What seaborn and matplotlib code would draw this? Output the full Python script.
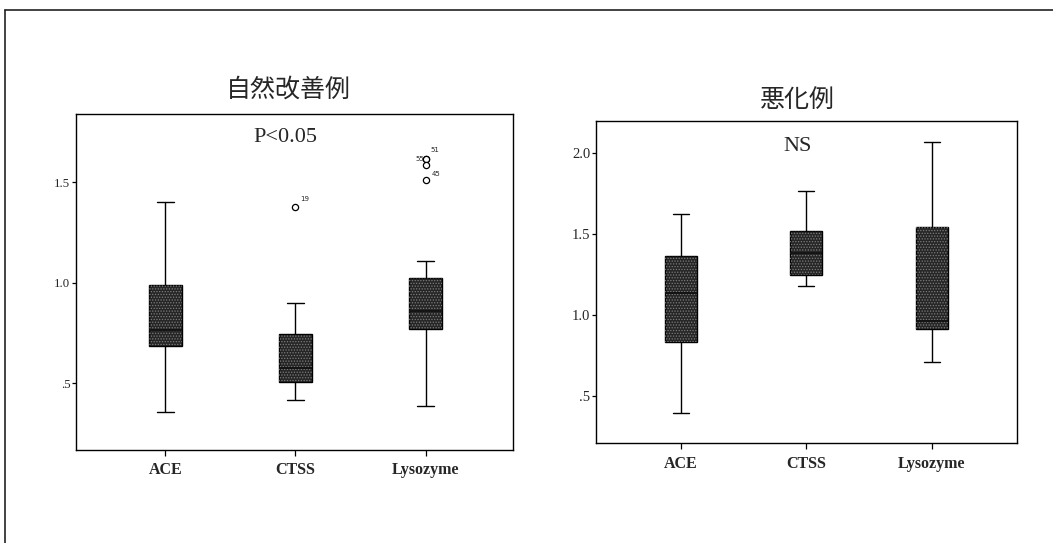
import matplotlib
matplotlib.use("Agg")
import matplotlib.pyplot as plt
from matplotlib.lines import Line2D
from matplotlib.patches import PathPatch
import pandas as pd
import seaborn as sns

categories = ["ACE", "CTSS", "Lysozyme"]

# 自然改善例: five-number summary per marker (lower whisker, Q1, median, Q3, upper whisker)
improved_low = [0.356, 0.417, 0.389]
improved_q1 = [0.685, 0.508, 0.770]
improved_median = [0.763, 0.574, 0.857]
improved_q3 = [0.988, 0.743, 1.025]
improved_high = [1.402, 0.897, 1.107]

# 自然改善例: outlying cases
improved_outlier_marker = ["CTSS", "Lysozyme", "Lysozyme", "Lysozyme", "Lysozyme"]
improved_outlier_value = [1.377, 1.614, 1.614, 1.585, 1.510]
improved_outlier_case = ["19", "51", "55", "", "45"]

# 悪化例: five-number summary per marker
worse_low = [0.395, 1.181, 0.707]
worse_q1 = [0.835, 1.246, 0.913]
worse_median = [1.134, 1.380, 0.963]
worse_q3 = [1.366, 1.520, 1.545]
worse_high = [1.622, 1.767, 2.072]

improved_ticks = [0.5, 1.0, 1.5]
worse_ticks = [0.5, 1.0, 1.5, 2.0]

sns.set_style("ticks")
plt.rcParams["font.family"] = ["Liberation Serif", "DejaVu Serif"]
plt.rcParams["hatch.linewidth"] = 0.6

PX = 0.72  # points per pixel at dpi 100


def summary_frame(low, q1, med, q3, high):
    rows = []
    for cat, *vals in zip(categories, low, q1, med, q3, high):
        for v in vals:
            rows.append({"marker": cat, "value": v})
    return pd.DataFrame(rows)


def draw_panel(ax, frame, ylim, ticks, tick_size):
    sns.boxplot(
        data=frame, x="marker", y="value", order=categories,
        whis=(0, 100), width=0.255, color="#262626", saturation=1,
        linecolor="black", linewidth=1.0, fliersize=0, ax=ax,
        medianprops=dict(color="#111111", linewidth=1.3),
    )
    # stippled texture on each box
    for p in list(ax.patches):
        ax.add_patch(PathPatch(
            p.get_path(), transform=p.get_transform(), facecolor="none",
            edgecolor="#7d7d7d", hatch="......", linewidth=0,
            zorder=p.get_zorder() + 0.05,
        ))
    for ln in ax.lines:
        ln.set_zorder(3)
    ax.set_ylim(*ylim)
    ax.set_yticks(ticks)
    ax.set_yticklabels([f"{t:.1f}".lstrip("0") for t in ticks], fontsize=tick_size)
    ax.set_xticks(range(len(categories)))
    ax.set_xticklabels(categories, fontsize=11.5, fontweight="bold")
    ax.set_xlabel("")
    ax.set_ylabel("")
    ax.tick_params(axis="y", length=3, width=0.9, pad=1, color="black")
    ax.tick_params(axis="x", length=4, width=0.9, pad=5, color="black")
    for s in ax.spines.values():
        s.set_visible(True)
        s.set_color("black")
        s.set_linewidth(1.0)


fig = plt.figure(figsize=(10.53, 5.43), dpi=100)

# outer frame
fig.add_artist(Line2D([5 / 1053, 1.0], [1 - 10 / 543] * 2, color="#222222", lw=1.2))
fig.add_artist(Line2D([5 / 1053] * 2, [1 - 10 / 543, 0.0], color="#222222", lw=1.2))

ax1 = fig.add_axes([76 / 1053, 1 - 450 / 543, 437 / 1053, 336 / 543])
ax2 = fig.add_axes([596 / 1053, 1 - 443.3 / 543, 420.7 / 1053, 322.6 / 543])

draw_panel(ax1, summary_frame(improved_low, improved_q1, improved_median,
                              improved_q3, improved_high),
           (0.168, 1.838), improved_ticks, 9.2)
draw_panel(ax2, summary_frame(worse_low, worse_q1, worse_median,
                              worse_q3, worse_high),
           (0.205, 2.202), worse_ticks, 10.5)

# outliers with case numbers
ox = [categories.index(m) for m in improved_outlier_marker]
ax1.scatter(ox, improved_outlier_value, s=20, facecolors="white",
            edgecolors="black", linewidths=0.9, zorder=4)
label_offsets = {"19": (4.5, 8, "left"), "51": (5, 9, "left"),
                 "55": (-2, 0, "right"), "45": (6, 6, "left")}
for x, y, case in zip(ox, improved_outlier_value, improved_outlier_case):
    if not case:
        continue
    dx, dy, ha = label_offsets[case]
    ax1.annotate(case, (x, y), xytext=(dx * PX, dy * PX),
                 textcoords="offset points", ha=ha, va="center",
                 fontsize=5, family="DejaVu Sans")

ax1.set_xlim(-0.685, 2.67)
ax2.set_xlim(-0.675, 2.677)

ax1.text(0.478, 0.931, "P<0.05", transform=ax1.transAxes, ha="center",
         va="center", fontsize=16)
ax2.text(0.480, 0.919, "NS", transform=ax2.transAxes, ha="center",
         va="center", fontsize=16)

cjk = ["Noto Sans CJK JP", "DejaVu Sans"]
fig.text(288 / 1053, 1 - 90 / 543, "自然改善例", ha="center", va="center",
         fontsize=18, family=cjk)
fig.text(797 / 1053, 1 - 100 / 543, "悪化例", ha="center", va="center",
         fontsize=18, family=cjk)

fig.savefig("out.png", dpi=100)
